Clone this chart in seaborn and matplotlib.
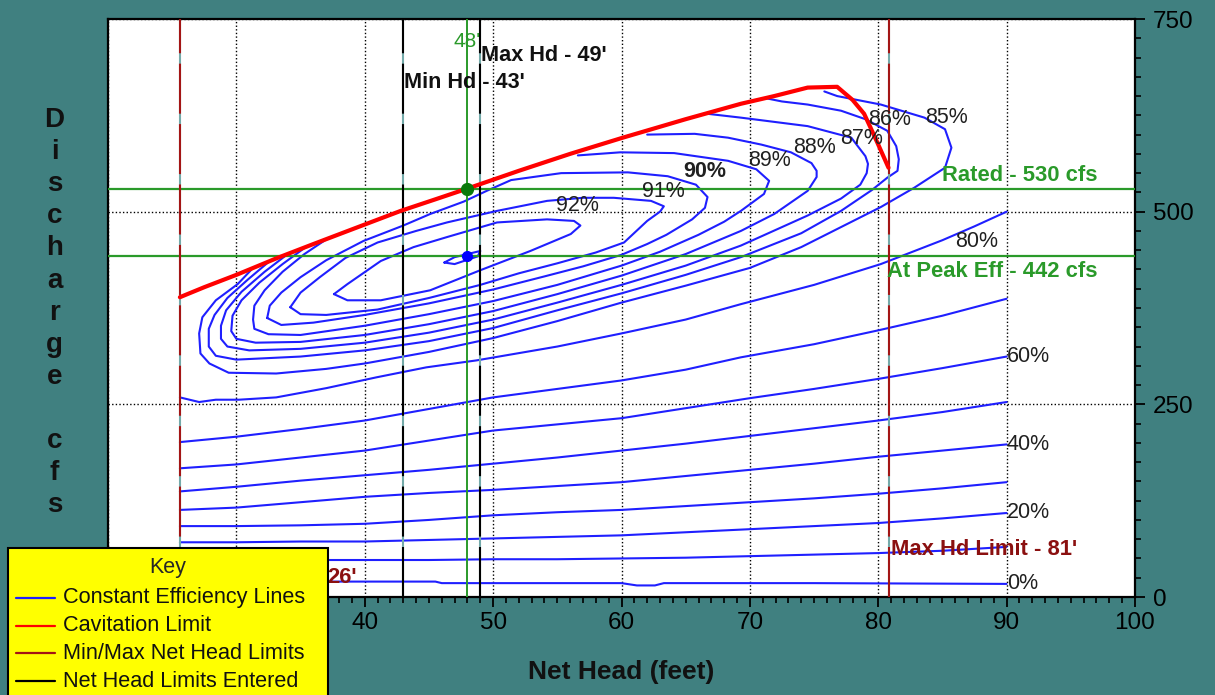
import matplotlib
matplotlib.use("Agg")
import matplotlib.pyplot as plt
from matplotlib.lines import Line2D
from matplotlib.patches import Rectangle
from matplotlib.ticker import MultipleLocator
import pandas as pd
import seaborn as sns

sns.set_style("white")
plt.rcParams["font.family"] = ["Liberation Sans", "DejaVu Sans"]

# ---- operating limits -------------------------------------------------------
min_head_limit = 25.6      # ft
max_head_limit = 80.8      # ft
min_head_entered = 43      # ft
max_head_entered = 49      # ft
rated_head = 48            # ft
rated_flow = 530           # cfs
peak_eff_flow = 442        # cfs

# ---- cavitation limit ------------------------------------------------------
cav_head = [25.6, 27.5, 30.0, 33.2, 36.0, 39.0, 42.8, 45.5, 48.0, 52.0, 56.0,
            60.1, 65.0, 69.3, 71.9, 74.5, 76.8, 78.0, 78.9, 79.4, 80.0, 80.8]
cav_flow = [389, 402, 418, 440, 458, 477, 501, 516, 530, 553, 575,
            596, 620, 640, 650, 661, 662, 645, 627, 609, 587, 557]

# ---- constant efficiency lines (head ft, flow cfs) -------------------------
eff_93 = [(46.2, 434), (47.0, 441), (49.0, 449), (48.8, 442), (47.0, 432), (46.2, 434)]
eff_92 = [(37.6, 393), (38.65, 406), (41.25, 436), (43.8, 454), (46.4, 467), (50.3, 486),
          (54.2, 490), (56.3, 488), (56.8, 482), (56.05, 471), (52.9, 449), (49.0, 424),
          (45.1, 398), (41.25, 385), (38.65, 385), (37.6, 393)]
eff_91 = [(34.2, 376), (35.0, 395), (36.5, 415), (38.5, 440), (41.0, 460), (44.0, 475),
          (46.4, 486), (50.3, 501), (54.2, 514), (57.0, 518), (59.4, 518), (62.3, 514),
          (63.3, 507), (63.0, 500), (62.0, 488), (60.2, 460), (58.0, 447), (55.0, 433),
          (52.0, 420), (49.0, 405), (45.0, 388), (41.0, 373), (37.0, 366), (35.0, 367),
          (34.2, 376)]
eff_90 = [(32.4, 362), (32.6, 378), (33.5, 395), (35.0, 415), (37.0, 437), (39.9, 462),
          (43.0, 482), (45.1, 497), (47.7, 513), (49.5, 527), (51.4, 541), (55.3, 550),
          (60.5, 551), (63.6, 546), (65.8, 535), (66.7, 519), (66.5, 505), (65.5, 490),
          (63.5, 470), (62.0, 458), (60.0, 444), (57.0, 429), (54.0, 416), (50.0, 399),
          (45.0, 381), (40.0, 366), (36.0, 356), (33.5, 353), (32.4, 362)]
eff_89 = [(37.0, 464), (35.3, 445), (33.6, 422), (32.2, 398), (31.4, 378), (31.3, 360),
          (31.4, 348), (32.5, 341), (35.0, 340), (40.0, 352), (45.0, 367), (50.0, 384),
          (55.0, 405), (60.0, 430), (63.0, 448), (66.0, 470), (68.0, 487), (69.3, 501),
          (71.1, 523), (71.5, 540), (70.5, 555), (68.3, 566), (64.1, 576), (59.9, 577),
          (56.6, 573)]
eff_88 = [(35.4, 454), (33.6, 432), (31.8, 408), (30.4, 385), (29.7, 365), (29.6, 345),
          (30.0, 335), (31.5, 330), (35.0, 331), (40.0, 340), (45.0, 354), (50.0, 371),
          (55.0, 393), (60.0, 417), (65.0, 445), (69.3, 475), (71.9, 497), (74.5, 527),
          (75.2, 545), (75.2, 553), (74.8, 563), (73.2, 577), (70.9, 587), (68.3, 596),
          (65.7, 601), (62.0, 600)]
eff_87 = [(34.0, 445), (32.2, 422), (30.4, 396), (29.2, 372), (28.8, 352), (28.8, 335),
          (29.3, 325), (31.0, 320), (35.0, 322), (40.0, 330), (45.0, 343), (50.0, 360),
          (55.0, 382), (60.0, 405), (65.0, 430), (69.3, 456), (74.5, 495), (77.1, 517),
          (78.6, 535), (79.1, 550), (79.2, 562), (79.0, 572), (77.9, 596), (74.5, 611),
          (69.3, 622), (66.7, 627)]
eff_86 = [(32.6, 436), (30.9, 412), (29.3, 388), (28.3, 366), (27.85, 348), (27.85, 325),
          (28.4, 313), (30.0, 308), (35.0, 312), (40.0, 320), (45.0, 332), (50.0, 349),
          (55.0, 372), (60.0, 394), (65.0, 418), (69.3, 441), (74.0, 472), (77.1, 501),
          (79.5, 528), (80.7, 544), (81.5, 553), (81.6, 568), (81.4, 585), (80.7, 605),
          (79.0, 620), (77.1, 631), (74.5, 639), (72.5, 643), (71.3, 647)]
eff_85 = [(31.3, 427), (30.1, 406), (28.4, 385), (27.35, 363), (27.1, 342), (27.2, 316),
          (27.9, 303), (29.4, 291), (33.1, 290), (37.0, 296), (40.0, 303), (45.0, 318),
          (50.0, 336), (55.0, 358), (60.0, 382), (65.0, 404), (70.0, 427), (74.0, 454),
          (77.1, 480), (80.2, 506), (82.8, 531), (85.2, 557), (85.7, 583), (85.2, 607),
          (83.6, 622), (80.2, 639), (76.8, 650), (75.8, 656)]
eff_80 = [(25.6, 259), (27.1, 253), (28.4, 256), (30.2, 256), (33.1, 259), (37.0, 271),
          (40.9, 285), (44.8, 298), (48.7, 307), (55.0, 325), (60.0, 342), (65.0, 360),
          (69.3, 380), (75.0, 405), (80.2, 432), (85.0, 463), (87.5, 481), (90.0, 500)]
eff_70 = [(25.6, 201), (30, 208), (35, 218), (40, 229), (45, 244), (50, 259), (55, 270),
          (60, 281), (65, 295), (69.3, 311), (75, 328), (80, 346), (85, 365), (90, 387)]
eff_60 = [(25.6, 167), (30, 172), (35, 181), (40, 190), (45, 203), (50, 216), (55, 224),
          (60, 232), (65, 245), (70, 258), (75, 270), (80, 283), (85, 297), (90, 312)]
eff_50 = [(25.6, 137), (30, 143), (35, 151), (40, 158), (45, 165), (50, 173), (55, 181),
          (60, 190), (65, 199), (70, 209), (75, 219), (80, 229), (85, 240), (90, 253)]
eff_40 = [(25.6, 113), (30, 116), (35, 123), (40, 130), (45, 135), (50, 139), (55, 144),
          (60, 149), (65, 157), (70, 165), (75, 173), (80, 182), (85, 190), (90, 198)]
eff_30 = [(25.6, 92), (30, 92), (35, 93), (40, 95), (45, 100), (50, 106), (55, 110),
          (60, 113), (65, 118), (70, 123), (75, 128), (80, 134), (85, 141), (90, 149)]
eff_20 = [(25.6, 71), (30, 71), (35, 72), (40, 72), (45, 74), (50, 76), (55, 78),
          (60, 80), (65, 84), (70, 88), (75, 92), (80, 96), (85, 102), (90, 109)]
eff_10 = [(25.6, 48), (35, 48), (40, 48), (45, 48), (50, 49), (55, 49), (60, 50),
          (65, 51), (70, 53), (75, 55), (80, 57), (85, 60), (90, 65)]
eff_0 = [(25.6, 20), (35, 20), (45.5, 20), (46, 18), (60, 18), (61.2, 15), (62.6, 15),
         (63.3, 18), (75, 18), (90, 17)]

# contour labels: (text, head, flow, bold)
eff_labels = [("92%", 56.6, 508, False), ("91%", 63.3, 526, False), ("90%", 66.5, 552, True),
              ("89%", 71.5, 566, False), ("88%", 75.0, 583, False), ("87%", 78.7, 595, False),
              ("86%", 80.9, 620, False), ("85%", 85.3, 622, False)]
edge_labels = [("80%", 87.7, 461, "center"), ("60%", 90.0, 312, "left"),
               ("40%", 90.0, 198, "left"), ("20%", 90.0, 109, "left"), ("0%", 90.0, 17, "left")]

x_ticks = [20, 30, 40, 50, 60, 70, 80, 90, 100]
x_tick_labels = ["", "", "40", "50", "60", "70", "80", "90", "100"]  # 20/30 sit under the key
y_ticks = [0, 250, 500, 750]

key_entries = ["Constant Efficiency Lines", "Cavitation Limit",
               "Min/Max Net Head Limits", "Net Head Limits Entered"]

# ---- colours ---------------------------------------------------------------
BG = "#408080"
BLUE = "#1f1fff"
RED = "#ff0000"
DARKRED = "#a31515"
GREEN = "#2a9a2a"
GAP = "#74aaaa"

W, H = 1215, 695
fig = plt.figure(figsize=(W / 100, H / 100), dpi=100, facecolor=BG)
ax = fig.add_axes([108 / W, 1 - 597 / H, (1135 - 108) / W, (597 - 19) / H])
ax.set_facecolor("white")

# efficiency lines
curves = [("93", eff_93), ("92", eff_92), ("91", eff_91), ("90", eff_90), ("89", eff_89),
          ("88", eff_88), ("87", eff_87), ("86", eff_86), ("85", eff_85), ("80", eff_80),
          ("70", eff_70), ("60", eff_60), ("50", eff_50), ("40", eff_40), ("30", eff_30),
          ("20", eff_20), ("10", eff_10), ("0", eff_0)]
frames = []
for name, pts in curves:
    frames.append(pd.DataFrame({"head": [p[0] for p in pts],
                                "flow": [p[1] for p in pts],
                                "curve": name}))
eff_df = pd.concat(frames, ignore_index=True)
sns.lineplot(data=eff_df, x="head", y="flow", units="curve", estimator=None, sort=False,
             color=BLUE, lw=1.5, ax=ax, legend=False, zorder=3)

# cavitation limit
cav_df = pd.DataFrame({"head": cav_head, "flow": cav_flow})
sns.lineplot(data=cav_df, x="head", y="flow", estimator=None, sort=False,
             color=RED, lw=3.0, ax=ax, legend=False, zorder=6)

# rated / peak-efficiency lines
for q in (rated_flow, peak_eff_flow):
    ax.axhline(q, color=GREEN, lw=1.6, zorder=4)
ax.axvline(rated_head, color=GREEN, lw=1.4, zorder=4)

# head limit lines (dashed over a light gap colour)
for xv, col in ((min_head_limit, DARKRED), (max_head_limit, DARKRED),
                (min_head_entered, "black"), (max_head_entered, "black")):
    ax.axvline(xv, color=GAP, lw=1.5, zorder=5)
    ax.axvline(xv, color=col, lw=1.5, dashes=(24, 5), zorder=5)

ax.plot([rated_head], [rated_flow], "o", color="#0a7a0a", ms=8.5, zorder=7)
ax.plot([rated_head], [peak_eff_flow], "o", color="#0000ff", ms=7, zorder=7)

# text annotations
for txt, hx, qy, bold in eff_labels:
    ax.text(hx, qy, txt, ha="center", va="center", fontsize=15.5, color="#202020",
            fontweight="bold" if bold else "normal", zorder=8)
for txt, hx, qy, ha in edge_labels:
    ax.text(hx, qy, txt, ha=ha, va="center", fontsize=15.5, color="#202020", zorder=8)

ax.text(rated_head, 721, f"{rated_head}'", ha="center", va="center", fontsize=15,
        color=GREEN, zorder=8)
ax.text(max_head_entered + 0.05, 702, f"Max Hd - {max_head_entered}'", ha="left",
        va="center", fontsize=15.6, fontweight="bold", color="#111111", zorder=8)
ax.text(min_head_entered + 0.05, 667, f"Min Hd - {min_head_entered}'", ha="left",
        va="center", fontsize=15.6, fontweight="bold", color="#111111", zorder=8)
ax.text(97.1, 547, f"Rated - {rated_flow} cfs", ha="right", va="center", fontsize=15.8,
        fontweight="bold", color=GREEN, zorder=8)
ax.text(97.1, 422, f"At Peak Eff - {peak_eff_flow} cfs", ha="right", va="center",
        fontsize=15.8, fontweight="bold", color=GREEN, zorder=8)
ax.text(max_head_limit + 0.2, 62, f"Max Hd Limit - {round(max_head_limit)}'", ha="left",
        va="center", fontsize=15.8, fontweight="bold", color="#8b1010", zorder=8)
ax.text(39.4, 25, f"{round(min_head_limit)}'", ha="right",
        va="center", fontsize=15.8, fontweight="bold", color="#8b1010", zorder=8)

# axes, ticks, grid
ax.set_xlim(20, 100)
ax.set_ylim(0, 750)
ax.set_xticks(x_ticks)
ax.set_xticklabels(x_tick_labels)
ax.set_yticks(y_ticks)
ax.xaxis.set_minor_locator(MultipleLocator(1))
ax.yaxis.set_minor_locator(MultipleLocator(25))
ax.yaxis.tick_right()
ax.tick_params(axis="both", which="major", direction="out", length=7, width=1.3,
               labelsize=17.5, color="black", labelcolor="black", pad=4)
ax.tick_params(axis="y", which="major", pad=6)
ax.tick_params(axis="both", which="minor", direction="out", length=4, width=1.2,
               color="black")
ax.tick_params(axis="y", which="both", left=False, right=True)
ax.tick_params(axis="x", which="both", bottom=True, top=False)
ax.grid(True, which="major", color="black", lw=1.0, linestyle=(0, (1, 1.6)), zorder=1)
ax.set_axisbelow(True)
for sp in ax.spines.values():
    sp.set_color("black")
    sp.set_linewidth(1.6)
ax.set_xlabel("")
ax.set_ylabel("")

# axis titles
fig.text(621.5 / W, 1 - 672 / H, "Net Head (feet)", ha="center", va="center",
         fontsize=19, fontweight="bold", color="#111111")
ylabel = "Discharge  cfs"
for k, ch in enumerate(ylabel.replace("  ", " ")):
    if ch == " ":
        continue
    fig.text(54.5 / W, 1 - (127 + 32.1 * k) / H, ch, ha="center", va="baseline",
             fontsize=20, fontweight="bold", color="#111111")

# key box
fig.add_artist(Rectangle((8 / W, -0.02), (328 - 8) / W, (695 - 548) / H + 0.02,
                         transform=fig.transFigure, facecolor="#ffff00",
                         edgecolor="black", lw=1.5, zorder=20))
fig.text(168 / W, 1 - 568 / H, "Key", ha="center", va="center", fontsize=15.5, zorder=21)
key_colors = [BLUE, RED, DARKRED, "black"]
for i, (lab, col) in enumerate(zip(key_entries, key_colors)):
    yk = 1 - (598 + 27.7 * i) / H
    fig.add_artist(Line2D([16 / W, 55 / W], [yk, yk], transform=fig.transFigure,
                          color=col, lw=1.6, zorder=21))
    fig.text(63 / W, yk, lab, ha="left", va="center", fontsize=15.6, color="#111111",
             zorder=21)

fig.savefig("out.png", dpi=100, facecolor=BG)
